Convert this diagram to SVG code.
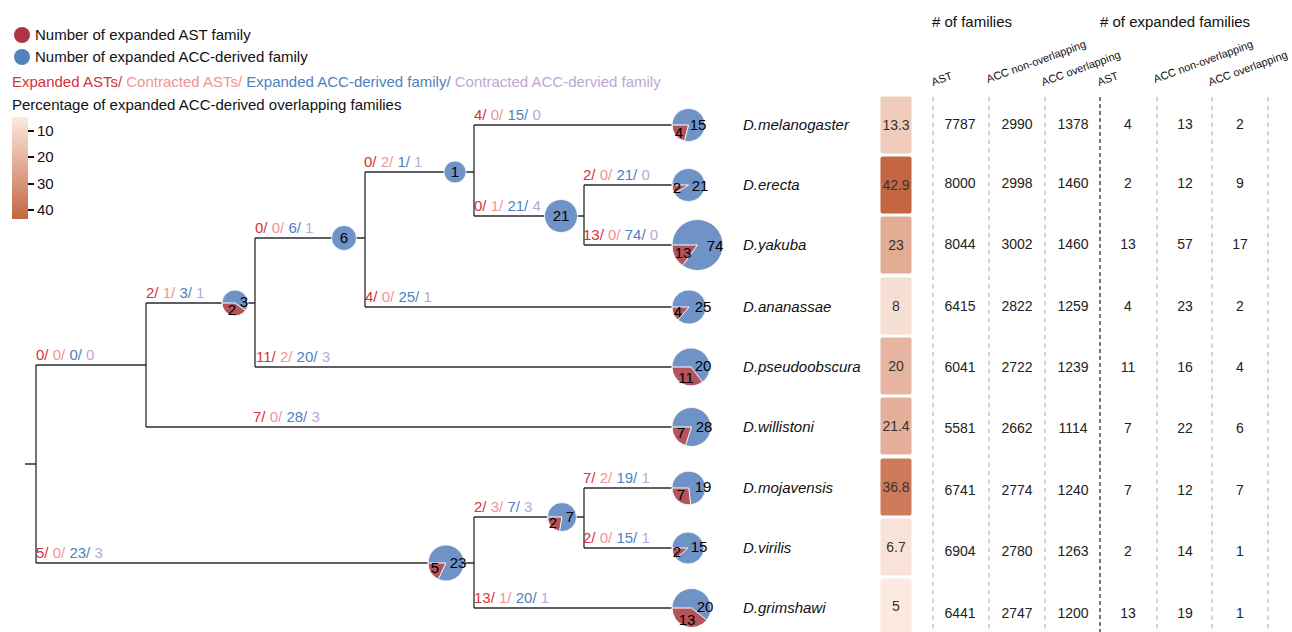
<svg xmlns="http://www.w3.org/2000/svg" width="1292" height="632" viewBox="0 0 1292 632">
<defs>
<linearGradient id="heatGrad" x1="0" y1="0" x2="0" y2="1">
<stop offset="0" stop-color="#FCE9E0"/>
<stop offset="1" stop-color="#C46640"/>
</linearGradient>
</defs>
<style>
text{font-family:"Liberation Sans",Arial,sans-serif;}
.lg{font-size:15px;fill:#111;}
.bl{font-size:15px;}
.ea{fill:#D7313B;}
.ca{fill:#F29494;}
.ec{fill:#4F7FBE;}
.cc{fill:#BBA8D4;}
.edge{stroke:#2b2b2b;stroke-width:1.3;fill:none;}
.pb{fill:#6F93C6;stroke:#ffffff;stroke-width:0.8;}
.pr{fill:#B2545A;stroke:#ffffff;stroke-width:1;}
.pl{font-size:15px;fill:#000;text-anchor:middle;}
.sp{font-size:15px;font-style:italic;fill:#111;}
.hc{stroke:none;}
.ht{font-size:14px;fill:#333;text-anchor:middle;}
.tv{font-size:14px;fill:#222;text-anchor:middle;}
.hd{font-size:15px;fill:#111;}
.rh{font-size:11px;fill:#111;}
.dg{stroke:#aaaaaa;stroke-width:1;stroke-dasharray:4.5,4;}
.dk{stroke:#222;stroke-width:1.2;stroke-dasharray:4,3;}
</style>

<g id="legend">
<circle cx="22" cy="35" r="8" fill="#AC3444"/>
<text class="lg" x="35" y="40">Number of expanded AST family</text>
<circle cx="22" cy="57" r="8" fill="#5383BF"/>
<text class="lg" x="35" y="62">Number of expanded ACC-derived family</text>
<text class="bl" x="12" y="87"><tspan class="ea">Expanded ASTs/ </tspan><tspan class="ca">Contracted ASTs/ </tspan><tspan class="ec">Expanded ACC-derived family/ </tspan><tspan class="cc">Contracted ACC-dervied family</tspan></text>
<text class="lg" x="12" y="110">Percentage of expanded ACC-derived overlapping families</text>
<rect x="12" y="117" width="16" height="102" fill="url(#heatGrad)"/>
<g stroke="#111" stroke-width="2">
<line x1="28" y1="131" x2="34" y2="131"/>
<line x1="28" y1="157" x2="34" y2="157"/>
<line x1="28" y1="184" x2="34" y2="184"/>
<line x1="28" y1="210" x2="34" y2="210"/>
</g>
<text class="lg" x="37" y="136">10</text>
<text class="lg" x="37" y="162">20</text>
<text class="lg" x="37" y="189">30</text>
<text class="lg" x="37" y="215">40</text>
</g>

<g id="connectors">
<path class="edge" d="M25,464 H36 M36,365 V563 M36,365 H146 M36,563 H474 M146,303 V427 M146,303 H255 M146,427 H672 M255,238 V367 M255,238 H365 M255,367 H672 M365,172 V307 M365,172 H474 M365,307 H672 M474,125 V216 M474,125 H672 M474,216 H584 M584,185 V245 M584,185 H672 M584,245 H672 M474,517 V608 M474,517 H584 M474,608 H672 M584,488 V548 M584,488 H672 M584,548 H672"/>
</g>

<g id="branch-labels">
<text class="bl" x="36" y="360"><tspan class="ea">0/ </tspan><tspan class="ca">0/ </tspan><tspan class="ec">0/ </tspan><tspan class="cc">0</tspan></text>
<text class="bl" x="36" y="558"><tspan class="ea">5/ </tspan><tspan class="ca">0/ </tspan><tspan class="ec">23/ </tspan><tspan class="cc">3</tspan></text>
<text class="bl" x="146" y="298"><tspan class="ea">2/ </tspan><tspan class="ca">1/ </tspan><tspan class="ec">3/ </tspan><tspan class="cc">1</tspan></text>
<text class="bl" x="253" y="422"><tspan class="ea">7/ </tspan><tspan class="ca">0/ </tspan><tspan class="ec">28/ </tspan><tspan class="cc">3</tspan></text>
<text class="bl" x="255" y="233"><tspan class="ea">0/ </tspan><tspan class="ca">0/ </tspan><tspan class="ec">6/ </tspan><tspan class="cc">1</tspan></text>
<text class="bl" x="256" y="362"><tspan class="ea">11/ </tspan><tspan class="ca">2/ </tspan><tspan class="ec">20/ </tspan><tspan class="cc">3</tspan></text>
<text class="bl" x="364" y="167"><tspan class="ea">0/ </tspan><tspan class="ca">2/ </tspan><tspan class="ec">1/ </tspan><tspan class="cc">1</tspan></text>
<text class="bl" x="365" y="302"><tspan class="ea">4/ </tspan><tspan class="ca">0/ </tspan><tspan class="ec">25/ </tspan><tspan class="cc">1</tspan></text>
<text class="bl" x="474" y="120"><tspan class="ea">4/ </tspan><tspan class="ca">0/ </tspan><tspan class="ec">15/ </tspan><tspan class="cc">0</tspan></text>
<text class="bl" x="474" y="211"><tspan class="ea">0/ </tspan><tspan class="ca">1/ </tspan><tspan class="ec">21/ </tspan><tspan class="cc">4</tspan></text>
<text class="bl" x="583" y="180"><tspan class="ea">2/ </tspan><tspan class="ca">0/ </tspan><tspan class="ec">21/ </tspan><tspan class="cc">0</tspan></text>
<text class="bl" x="583" y="240"><tspan class="ea">13/ </tspan><tspan class="ca">0/ </tspan><tspan class="ec">74/ </tspan><tspan class="cc">0</tspan></text>
<text class="bl" x="474" y="512"><tspan class="ea">2/ </tspan><tspan class="ca">3/ </tspan><tspan class="ec">7/ </tspan><tspan class="cc">3</tspan></text>
<text class="bl" x="583" y="483"><tspan class="ea">7/ </tspan><tspan class="ca">2/ </tspan><tspan class="ec">19/ </tspan><tspan class="cc">1</tspan></text>
<text class="bl" x="583" y="543"><tspan class="ea">2/ </tspan><tspan class="ca">0/ </tspan><tspan class="ec">15/ </tspan><tspan class="cc">1</tspan></text>
<text class="bl" x="474" y="603"><tspan class="ea">13/ </tspan><tspan class="ca">1/ </tspan><tspan class="ec">20/ </tspan><tspan class="cc">1</tspan></text>
</g>

<g id="node-2-3">
<circle class="pb" cx="235" cy="303" r="13"/>
<path class="pr" d="M235,303 L222,303 A13,13 0 0 0 245.5,310.6 Z"/>
<text class="pl" x="244" y="307">3</text>
<text class="pl" x="232" y="315">2</text>
</g>
<g id="node-6">
<circle class="pb" cx="344" cy="238" r="12.5"/>
<text class="pl" x="344" y="243">6</text>
</g>
<g id="node-1">
<circle class="pb" cx="455" cy="172" r="11"/>
<text class="pl" x="455" y="177">1</text>
</g>
<g id="node-21">
<circle class="pb" cx="561" cy="216" r="16.5"/>
<text class="pl" x="561" y="221">21</text>
</g>
<g id="node-5-23">
<circle class="pb" cx="446" cy="563" r="18"/>
<path class="pr" d="M446,563 L428,563 A18,18 0 0 0 438.2,579.2 Z"/>
<text class="pl" x="458" y="568">23</text>
<text class="pl" x="435" y="573">5</text>
</g>
<g id="node-2-7">
<circle class="pb" cx="562" cy="517" r="14.5"/>
<path class="pr" d="M562,517 L547.5,517 A14.5,14.5 0 0 0 559.5,531.3 Z"/>
<text class="pl" x="570" y="522">7</text>
<text class="pl" x="553" y="528">2</text>
</g>

<g id="tip-melanogaster">
<circle class="pb" cx="688.5" cy="125" r="16.5"/>
<path class="pr" d="M688.5,125 L672,125 A16.5,16.5 0 0 0 684.45,141 Z"/>
<text class="pl" x="679" y="138">4</text>
<text class="pl" x="698" y="130">15</text>
<text class="sp" x="743" y="130">D.melanogaster</text>
</g>
<g id="tip-erecta">
<circle class="pb" cx="688.5" cy="185" r="16.5"/>
<path class="pr" d="M688.5,185 L672,185 A16.5,16.5 0 0 0 674.4,193.6 Z"/>
<text class="pl" x="677" y="193">2</text>
<text class="pl" x="700" y="191">21</text>
<text class="sp" x="743" y="190">D.erecta</text>
</g>
<g id="tip-yakuba">
<circle class="pb" cx="697.5" cy="245" r="25.5"/>
<path class="pr" d="M697.5,245 L672,245 A25.5,25.5 0 0 0 682.4,265.6 Z"/>
<text class="pl" x="683" y="258">13</text>
<text class="pl" x="715" y="251">74</text>
<text class="sp" x="743" y="250">D.yakuba</text>
</g>
<g id="tip-ananassae">
<circle class="pb" cx="689" cy="307" r="17"/>
<path class="pr" d="M689,307 L672,307 A17,17 0 0 0 678,320 Z"/>
<text class="pl" x="678" y="317">4</text>
<text class="pl" x="703" y="312">25</text>
<text class="sp" x="743" y="312">D.ananassae</text>
</g>
<g id="tip-pseudoobscura">
<circle class="pb" cx="691" cy="367" r="19"/>
<path class="pr" d="M691,367 L672,367 A19,19 0 0 0 702.6,382 Z"/>
<text class="pl" x="686" y="383">11</text>
<text class="pl" x="703" y="371">20</text>
<text class="sp" x="743" y="372">D.pseudoobscura</text>
</g>
<g id="tip-willistoni">
<circle class="pb" cx="691.5" cy="427" r="19.5"/>
<path class="pr" d="M691.5,427 L672,427 A19.5,19.5 0 0 0 685.5,445.5 Z"/>
<text class="pl" x="681" y="438">7</text>
<text class="pl" x="704" y="432">28</text>
<text class="sp" x="743" y="432">D.willistoni</text>
</g>
<g id="tip-mojavensis">
<circle class="pb" cx="688.8" cy="488" r="16.8"/>
<path class="pr" d="M688.8,488 L672,488 A16.8,16.8 0 0 0 690.8,504.7 Z"/>
<text class="pl" x="681" y="500">7</text>
<text class="pl" x="703" y="492">19</text>
<text class="sp" x="743" y="493">D.mojavensis</text>
</g>
<g id="tip-virilis">
<circle class="pb" cx="688" cy="548" r="16"/>
<path class="pr" d="M688,548 L672,548 A16,16 0 0 0 676.2,558.8 Z"/>
<text class="pl" x="677" y="557">2</text>
<text class="pl" x="699" y="552">15</text>
<text class="sp" x="743" y="553">D.virilis</text>
</g>
<g id="tip-grimshawi">
<circle class="pb" cx="691.5" cy="608" r="19.5"/>
<path class="pr" d="M691.5,608 L672,608 A19.5,19.5 0 0 0 706.8,620.1 Z"/>
<text class="pl" x="687" y="625">13</text>
<text class="pl" x="705" y="612">20</text>
<text class="sp" x="743" y="613">D.grimshawi</text>
</g>

<g id="heatmap">
<rect class="hc" x="880.5" y="96.5" width="31" height="57" rx="2" fill="#F0CCBD"/>
<text class="ht" x="896" y="130">13.3</text>
<rect class="hc" x="880.5" y="156.5" width="31" height="57" rx="2" fill="#C46640"/>
<text class="ht" x="896" y="190">42.9</text>
<rect class="hc" x="880.5" y="216.5" width="31" height="57" rx="2" fill="#E1AB94"/>
<text class="ht" x="896" y="250">23</text>
<rect class="hc" x="880.5" y="277.5" width="31" height="57" rx="2" fill="#F8DFD3"/>
<text class="ht" x="896" y="311">8</text>
<rect class="hc" x="880.5" y="337.5" width="31" height="57" rx="2" fill="#E6B5A1"/>
<text class="ht" x="896" y="371">20</text>
<rect class="hc" x="880.5" y="397.5" width="31" height="57" rx="2" fill="#E4B09B"/>
<text class="ht" x="896" y="431">21.4</text>
<rect class="hc" x="880.5" y="458.5" width="31" height="57" rx="2" fill="#CD7B5A"/>
<text class="ht" x="896" y="492">36.8</text>
<rect class="hc" x="880.5" y="518.5" width="31" height="57" rx="2" fill="#F9E3D9"/>
<text class="ht" x="896" y="552">6.7</text>
<rect class="hc" x="880.5" y="578.5" width="31" height="57" rx="2" fill="#FCE9E0"/>
<text class="ht" x="896" y="611">5</text>
</g>

<g id="table">
<text class="hd" x="932" y="27"># of families</text>
<text class="hd" x="1100" y="27"># of expanded families</text>
<text class="rh" transform="translate(933,86) rotate(-20)">AST</text>
<text class="rh" transform="translate(988,83) rotate(-20)">ACC non-overlapping</text>
<text class="rh" transform="translate(1043,86) rotate(-20)">ACC overlapping</text>
<text class="rh" transform="translate(1099,86) rotate(-20)">AST</text>
<text class="rh" transform="translate(1155,83) rotate(-20)">ACC non-overlapping</text>
<text class="rh" transform="translate(1210,86) rotate(-20)">ACC overlapping</text>
<line class="dg" x1="933" y1="97" x2="933" y2="632"/>
<line class="dg" x1="989" y1="97" x2="989" y2="632"/>
<line class="dg" x1="1045" y1="97" x2="1045" y2="632"/>
<line class="dk" x1="1100" y1="97" x2="1100" y2="632"/>
<line class="dg" x1="1157" y1="97" x2="1157" y2="632"/>
<line class="dg" x1="1212" y1="97" x2="1212" y2="632"/>
<line class="dg" x1="1268" y1="97" x2="1268" y2="632"/>
<g>
<text class="tv" x="960" y="129">7787</text><text class="tv" x="1017" y="129">2990</text><text class="tv" x="1073" y="129">1378</text><text class="tv" x="1128" y="129">4</text><text class="tv" x="1185" y="129">13</text><text class="tv" x="1240" y="129">2</text>
<text class="tv" x="960" y="188">8000</text><text class="tv" x="1017" y="188">2998</text><text class="tv" x="1073" y="188">1460</text><text class="tv" x="1128" y="188">2</text><text class="tv" x="1185" y="188">12</text><text class="tv" x="1240" y="188">9</text>
<text class="tv" x="960" y="249">8044</text><text class="tv" x="1017" y="249">3002</text><text class="tv" x="1073" y="249">1460</text><text class="tv" x="1128" y="249">13</text><text class="tv" x="1185" y="249">57</text><text class="tv" x="1240" y="249">17</text>
<text class="tv" x="960" y="311">6415</text><text class="tv" x="1017" y="311">2822</text><text class="tv" x="1073" y="311">1259</text><text class="tv" x="1128" y="311">4</text><text class="tv" x="1185" y="311">23</text><text class="tv" x="1240" y="311">2</text>
<text class="tv" x="960" y="372">6041</text><text class="tv" x="1017" y="372">2722</text><text class="tv" x="1073" y="372">1239</text><text class="tv" x="1128" y="372">11</text><text class="tv" x="1185" y="372">16</text><text class="tv" x="1240" y="372">4</text>
<text class="tv" x="960" y="433">5581</text><text class="tv" x="1017" y="433">2662</text><text class="tv" x="1073" y="433">1114</text><text class="tv" x="1128" y="433">7</text><text class="tv" x="1185" y="433">22</text><text class="tv" x="1240" y="433">6</text>
<text class="tv" x="960" y="495">6741</text><text class="tv" x="1017" y="495">2774</text><text class="tv" x="1073" y="495">1240</text><text class="tv" x="1128" y="495">7</text><text class="tv" x="1185" y="495">12</text><text class="tv" x="1240" y="495">7</text>
<text class="tv" x="960" y="556">6904</text><text class="tv" x="1017" y="556">2780</text><text class="tv" x="1073" y="556">1263</text><text class="tv" x="1128" y="556">2</text><text class="tv" x="1185" y="556">14</text><text class="tv" x="1240" y="556">1</text>
<text class="tv" x="960" y="618">6441</text><text class="tv" x="1017" y="618">2747</text><text class="tv" x="1073" y="618">1200</text><text class="tv" x="1128" y="618">13</text><text class="tv" x="1185" y="618">19</text><text class="tv" x="1240" y="618">1</text>
</g>
</g>
</svg>
